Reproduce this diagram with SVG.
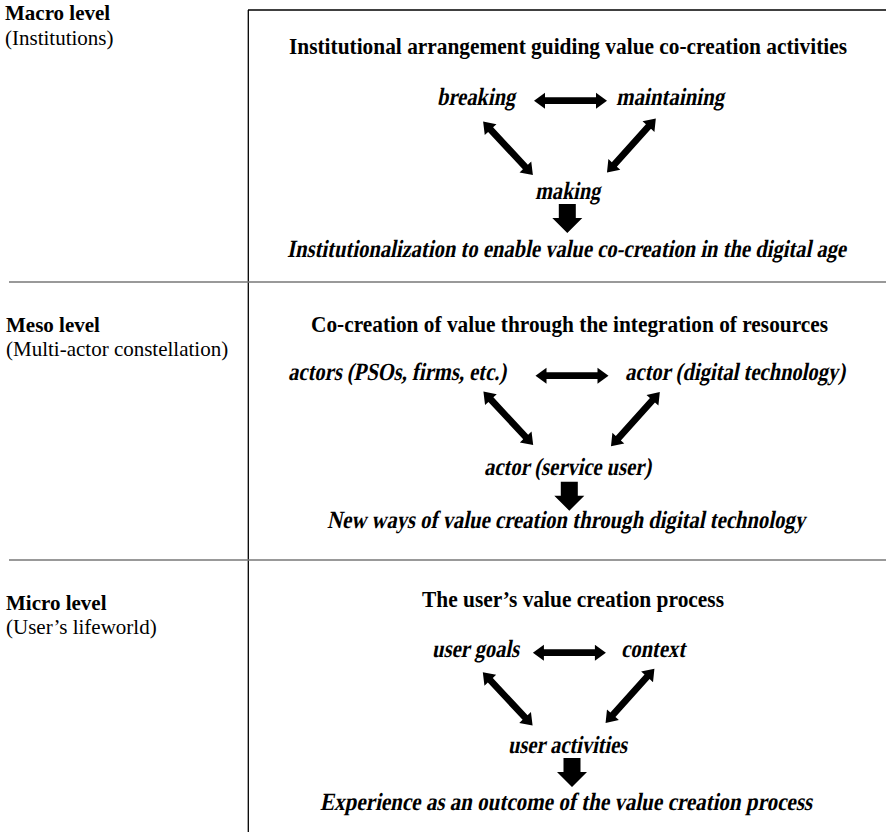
<svg xmlns="http://www.w3.org/2000/svg" xmlns:xlink="http://www.w3.org/1999/xlink" width="886" height="832" viewBox="0 0 886 832">
<style>
text{font-family:"Liberation Serif","Times New Roman",serif;fill:#000}
.lbl{font-size:21px}
.b{font-weight:bold}
.t{font-size:21.5px;font-weight:bold}
.i{font-size:21.5px;font-weight:bold}
.frame{stroke:#000;stroke-width:1.3;fill:none}
.sep{stroke:#777;stroke-width:1.5;fill:none}
</style>
<defs>
<path id="dbl" d="M-36.5,0 L-25.5,-8 L-25.5,-3.4 L25.5,-3.4 L25.5,-8 L36.5,0 L25.5,8 L25.5,3.4 L-25.5,3.4 L-25.5,8 Z" fill="#000"/>
<path id="down" d="M-8.5,0 L8.5,0 L8.5,14 L15,14 L0,29 L-15,14 L-8.5,14 Z" fill="#000"/>
</defs>
<rect width="886" height="832" fill="#fff"/>
<g id="frame">
<line class="frame" x1="248" y1="10" x2="886" y2="10"/>
<line class="frame" x1="248.3" y1="10" x2="248.3" y2="832"/>
<line class="sep" x1="9" y1="282" x2="886" y2="282"/>
<line class="sep" x1="9" y1="560" x2="886" y2="560"/>
</g>
<g id="levels">
<g id="macro-label"><text class="lbl b" x="5" y="20">Macro level</text><text class="lbl" x="5" y="45">(Institutions)</text></g>
<g id="meso-label"><text class="lbl b" x="6" y="332">Meso level</text><text class="lbl" x="6" y="356">(Multi-actor constellation)</text></g>
<g id="micro-label"><text class="lbl b" x="6" y="610">Micro level</text><text class="lbl" x="6" y="634">(User’s lifeworld)</text></g>
</g>
<g id="macro">
<g id="macro-title"><text class="t" transform="translate(289,54) scale(1,1.08)" textLength="558" lengthAdjust="spacingAndGlyphs">Institutional arrangement guiding value co-creation activities</text></g>
<g id="breaking"><text class="i" transform="translate(437,105) scale(1,1.15) skewX(-13)" textLength="78" lengthAdjust="spacingAndGlyphs">breaking</text></g>
<g id="maintaining"><text class="i" transform="translate(616,105) scale(1,1.15) skewX(-13)" textLength="108" lengthAdjust="spacingAndGlyphs">maintaining</text></g>
<g id="making"><text class="i" transform="translate(535,199) scale(1,1.15) skewX(-13)" textLength="65" lengthAdjust="spacingAndGlyphs">making</text></g>
<g id="institutionalization"><text class="i" transform="translate(287,257) scale(1,1.15) skewX(-13)" textLength="559" lengthAdjust="spacingAndGlyphs">Institutionalization to enable value co-creation in the digital age</text></g>
</g>
<g id="meso">
<g id="meso-title"><text class="t" transform="translate(311,332) scale(1,1.08)" textLength="517" lengthAdjust="spacingAndGlyphs">Co-creation of value through the integration of resources</text></g>
<g id="actors"><text class="i" transform="translate(288,380) scale(1,1.15) skewX(-13)" textLength="218" lengthAdjust="spacingAndGlyphs">actors (PSOs, firms, etc.)</text></g>
<g id="actor-digital"><text class="i" transform="translate(625,380) scale(1,1.15) skewX(-13)" textLength="220" lengthAdjust="spacingAndGlyphs">actor (digital technology)</text></g>
<g id="actor-user"><text class="i" transform="translate(484,475) scale(1,1.15) skewX(-13)" textLength="167" lengthAdjust="spacingAndGlyphs">actor (service user)</text></g>
<g id="new-ways"><text class="i" transform="translate(327,528) scale(1,1.15) skewX(-13)" textLength="478" lengthAdjust="spacingAndGlyphs">New ways of value creation through digital technology</text></g>
</g>
<g id="micro">
<g id="micro-title"><text class="t" transform="translate(422,607) scale(1,1.08)" textLength="302" lengthAdjust="spacingAndGlyphs">The user’s value creation process</text></g>
<g id="user-goals"><text class="i" transform="translate(432,657) scale(1,1.15) skewX(-13)" textLength="87" lengthAdjust="spacingAndGlyphs">user goals</text></g>
<g id="context"><text class="i" transform="translate(621,657) scale(1,1.15) skewX(-13)" textLength="64" lengthAdjust="spacingAndGlyphs">context</text></g>
<g id="user-activities"><text class="i" transform="translate(508,753) scale(1,1.15) skewX(-13)" textLength="119" lengthAdjust="spacingAndGlyphs">user activities</text></g>
<g id="experience"><text class="i" transform="translate(320,810) scale(1,1.15) skewX(-13)" textLength="492" lengthAdjust="spacingAndGlyphs">Experience as an outcome of the value creation process</text></g>
</g>
<g id="connectors">
<use xlink:href="#dbl" href="#dbl" transform="translate(570.5,100.7)"/>
<use xlink:href="#dbl" href="#dbl" transform="translate(508,148.3) rotate(47)"/>
<use xlink:href="#dbl" href="#dbl" transform="translate(631.4,145.5) rotate(-48)"/>
<use xlink:href="#down" href="#down" transform="translate(567.3,204)"/>
<use xlink:href="#dbl" href="#dbl" transform="translate(572,375.7)"/>
<use xlink:href="#dbl" href="#dbl" transform="translate(508.3,418.3) rotate(47)"/>
<use xlink:href="#dbl" href="#dbl" transform="translate(635.4,419.2) rotate(-48)"/>
<use xlink:href="#down" href="#down" transform="translate(569.3,481.7)"/>
<use xlink:href="#dbl" href="#dbl" transform="translate(569.4,652.7)"/>
<use xlink:href="#dbl" href="#dbl" transform="translate(507.7,698.9) rotate(47)"/>
<use xlink:href="#dbl" href="#dbl" transform="translate(630,695.8) rotate(-48)"/>
<use xlink:href="#down" href="#down" transform="translate(572,758)"/>
</g>
</svg>
